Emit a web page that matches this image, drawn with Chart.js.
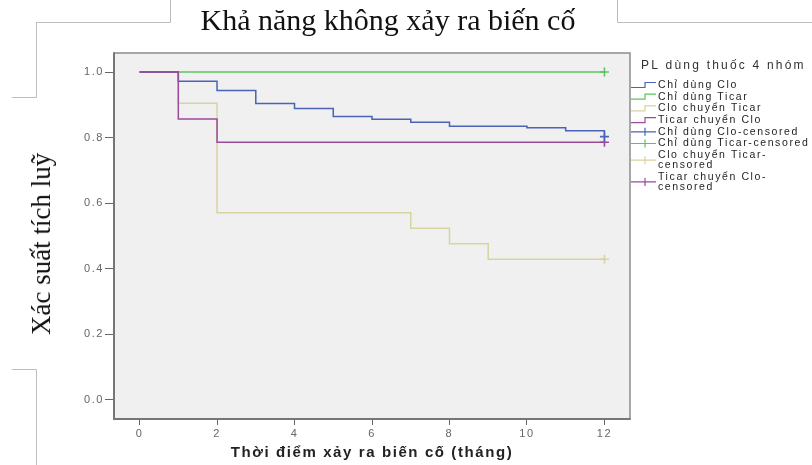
<!DOCTYPE html>
<html lang="vi">
<head>
<meta charset="utf-8">
<title>Khả năng không xảy ra biến cố</title>
<script src="https://cdn.jsdelivr.net/npm/chart.js@4.4.1/dist/chart.umd.min.js"></script>
<style>
  html, body { margin: 0; padding: 0; background: #fff; }
  #wrap { position: relative; width: 812px; height: 465px; overflow: hidden; }
  #deco, #km { position: absolute; left: 0; top: 0; }
  .title {
    position: absolute; left: 0; top: 3px; width: 776px; text-align: center;
    font: 30px/34px "Liberation Serif", "Times New Roman", serif; color: #111; white-space: nowrap;
  }
  .ytitle {
    position: absolute; left: 41px; top: 244px;
    transform: translate(-50%, -50%) rotate(-90deg);
    font: 27px/30px "Liberation Serif", "Times New Roman", serif; color: #111; white-space: nowrap;
  }
</style>
</head>
<body>
<div id="wrap">
  <svg id="deco" width="812" height="465">
    <polyline points="170.5,0 170.5,22.5 36.5,22.5 36.5,97.5 12,97.5" fill="none" stroke="#bdbdbd"/>
    <polyline points="12,369.5 36.5,369.5 36.5,465" fill="none" stroke="#bdbdbd"/>
    <polyline points="617.5,0 617.5,22.5 812,22.5" fill="none" stroke="#bdbdbd"/>
  </svg>
  <canvas id="km" width="812" height="465"></canvas>
  <div class="title">Khả năng không xảy ra biến cố</div>
  <div class="ytitle">Xác suất tích luỹ</div>
</div>

<script>
// Kaplan-Meier curves, 4 treatment groups (time in months)
const groupNames = ['Chỉ dùng Clo', 'Chỉ dùng Ticar', 'Clo chuyển Ticar', 'Ticar chuyển Clo'];
const groupColors = ['#4a62b8', '#5cc45c', '#d8d4a0', '#9a4a9a'];

const cloTimes = [0, 1, 2, 3, 4, 5, 6, 7, 8, 10, 11, 12];
const cloSurv = [1, 0.972, 0.944, 0.904, 0.889, 0.864, 0.856, 0.847, 0.835, 0.830, 0.821, 0.803];

const ticarTimes = [0, 12];
const ticarSurv = [1, 1];

const cloTicarTimes = [0, 1, 2, 7, 8, 9, 12];
const cloTicarSurv = [1, 0.905, 0.571, 0.524, 0.476, 0.429, 0.429];

const ticarCloTimes = [0, 1, 2, 12];
const ticarCloSurv = [1, 0.857, 0.786, 0.786];

// censored observations (all at the end of follow-up)
const censorTimes = [12, 12, 12, 12];
const censorSurv = [0.803, 1, 0.429, 0.786];
const censorLabels = [
  ['Chỉ dùng Clo-censored'],
  ['Chỉ dùng Ticar-censored'],
  ['Clo chuyển Ticar-', 'censored'],
  ['Ticar chuyển Clo-', 'censored']
];

const xTicks = [0, 2, 4, 6, 8, 10, 12];
const yTicks = [0, 0.2, 0.4, 0.6, 0.8, 1.0];
const xTitle = 'Thời điểm xảy ra biến cố (tháng)';
const legendTitle = 'PL dùng thuốc 4 nhóm';

const curves = [
  [cloTimes, cloSurv],
  [ticarTimes, ticarSurv],
  [cloTicarTimes, cloTicarSurv],
  [ticarCloTimes, ticarCloSurv]
];

const SANS = '"Liberation Sans", Arial, sans-serif';

const datasets = [];
curves.forEach(([t, s], i) => {
  datasets.push({
    label: groupNames[i],
    legendLines: [groupNames[i]],
    data: t.map((x, k) => ({ x: x, y: s[k] })),
    borderColor: groupColors[i],
    borderWidth: 1.5,
    stepped: true,
    pointRadius: 0,
    fill: false,
    order: i === 3 ? 1 : 2
  });
});
censorLabels.forEach((lines, i) => {
  datasets.push({
    label: lines.join(''),
    legendLines: lines,
    data: [{ x: censorTimes[i], y: censorSurv[i] }],
    borderColor: groupColors[i],
    showLine: false,
    pointStyle: 'cross',
    pointRadius: 4.5,
    pointBorderWidth: 1.6,
    pointBorderColor: groupColors[i],
    order: 0
  });
});

// grey plot background + frame, and wider letter spacing for axis text
const plotFrame = {
  id: 'plotFrame',
  beforeDraw(chart) {
    const { ctx, chartArea: a } = chart;
    ctx.save();
    ctx.fillStyle = '#f0f0f0';
    ctx.fillRect(a.left, a.top, a.right - a.left, a.bottom - a.top);
    ctx.restore();
    ctx.letterSpacing = '1.6px';
  },
  afterDatasetsDraw(chart) {
    const { ctx, chartArea: a } = chart;
    ctx.save();
    ctx.strokeStyle = '#8c8c8c';
    ctx.lineWidth = 1.5;
    ctx.beginPath();
    ctx.moveTo(a.left, a.top);
    ctx.lineTo(a.right, a.top);
    ctx.lineTo(a.right, a.bottom);
    ctx.stroke();
    ctx.strokeStyle = '#767676';
    ctx.lineWidth = 2;
    ctx.beginPath();
    ctx.moveTo(a.left, a.top - 0.75);
    ctx.lineTo(a.left, a.bottom);
    ctx.lineTo(a.right + 0.75, a.bottom);
    ctx.stroke();
    ctx.restore();
  }
};

// SPSS-style legend to the right of the plot
const kmLegend = {
  id: 'kmLegend',
  afterDraw(chart) {
    const ctx = chart.ctx;
    const x0 = chart.chartArea.right;
    ctx.save();
    ctx.textBaseline = 'middle';
    ctx.textAlign = 'left';
    ctx.fillStyle = '#333';
    ctx.font = '12px ' + SANS;
    ctx.letterSpacing = '2.2px';
    ctx.fillText(legendTitle, x0 + 11, 66);

    ctx.font = '10.5px ' + SANS;
    ctx.letterSpacing = '1.6px';
    ctx.fillStyle = '#1e1e1e';
    let y = 85;
    chart.data.datasets.forEach(ds => {
      const lines = ds.legendLines;
      const mid = y + (lines.length - 1) * 5;
      ctx.strokeStyle = ds.borderColor;
      ctx.lineWidth = 1.2;
      ctx.beginPath();
      if (ds.stepped) {
        ctx.moveTo(x0 + 1, mid + 2.5);
        ctx.lineTo(x0 + 15, mid + 2.5);
        ctx.lineTo(x0 + 15, mid - 2.5);
        ctx.lineTo(x0 + 26, mid - 2.5);
      } else {
        ctx.moveTo(x0 + 1, mid);
        ctx.lineTo(x0 + 26, mid);
        ctx.moveTo(x0 + 15, mid - 4);
        ctx.lineTo(x0 + 15, mid + 4);
      }
      ctx.stroke();
      lines.forEach((t, k) => ctx.fillText(t, x0 + 28, y + k * 10));
      y += 11.7 + (lines.length - 1) * 10;
    });
    ctx.restore();
    ctx.letterSpacing = '0px';
  }
};

new Chart(document.getElementById('km').getContext('2d'), {
  type: 'line',
  data: { datasets },
  options: {
    responsive: false,
    animation: false,
    devicePixelRatio: 1,
    layout: { padding: { top: 53, right: 182, bottom: 0, left: 0 } },
    plugins: {
      legend: { display: false },
      tooltip: { enabled: false },
      title: { display: false }
    },
    scales: {
      x: {
        type: 'linear',
        min: -0.66,
        max: 12.66,
        afterBuildTicks: s => { s.ticks = xTicks.map(v => ({ value: v })); },
        afterFit: s => { s.height = 46; },
        ticks: { color: '#666', font: { family: SANS, size: 11 }, padding: 2, maxRotation: 0, autoSkip: false },
        grid: { drawOnChartArea: false, drawTicks: true, tickLength: 6, color: '#666' },
        border: { display: false },
        title: {
          display: true,
          text: xTitle,
          color: '#222',
          font: { family: SANS, size: 15, weight: 'bold' },
          padding: { top: 0, bottom: 3 }
        }
      },
      y: {
        type: 'linear',
        min: -0.058,
        max: 1.058,
        afterBuildTicks: s => { s.ticks = yTicks.map(v => ({ value: v })); },
        afterFit: s => { s.width = 114; },
        ticks: { color: '#666', font: { family: SANS, size: 11 }, padding: 1, callback: v => v.toFixed(1) },
        grid: { drawOnChartArea: false, drawTicks: true, tickLength: 9, color: '#666' },
        border: { display: false }
      }
    }
  },
  plugins: [plotFrame, kmLegend]
});
</script>
</body>
</html>
